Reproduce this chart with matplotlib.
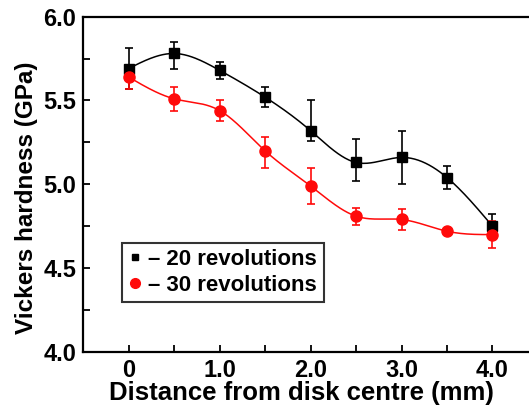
import numpy as np
import matplotlib
matplotlib.use("Agg")
import matplotlib.pyplot as plt
from matplotlib.ticker import MultipleLocator, FixedLocator, FixedFormatter

plt.rcParams['font.family'] = ['Liberation Sans', 'DejaVu Sans']
plt.rcParams['font.weight'] = 'bold'

# distance from disk centre (mm)
dist = [0, 0.5, 1.0, 1.5, 2.0, 2.5, 3.0, 3.5, 4.0]

# 20 revolutions
hv20 = [5.69, 5.78, 5.68, 5.52, 5.32, 5.13, 5.16, 5.04, 4.75]
err20_lo = [0.12, 0.09, 0.05, 0.06, 0.06, 0.11, 0.16, 0.07, 0.07]
err20_hi = [0.12, 0.07, 0.05, 0.06, 0.18, 0.14, 0.16, 0.07, 0.07]

# 30 revolutions
hv30 = [5.64, 5.51, 5.44, 5.20, 4.99, 4.81, 4.79, 4.72, 4.70]
err30_lo = [0.07, 0.07, 0.06, 0.10, 0.11, 0.05, 0.06, 0.01, 0.08]
err30_hi = [0.06, 0.07, 0.06, 0.08, 0.11, 0.05, 0.06, 0.01, 0.08]

xticks = [0, 1, 2, 3, 4]
xlabels = ["0", "1.0", "2.0", "3.0", "4.0"]


def spline(x, y, n=300):
    # natural cubic spline, just for drawing the smooth line
    x = np.asarray(x, float)
    y = np.asarray(y, float)
    k = len(x)
    h = np.diff(x)
    A = np.zeros((k, k))
    b = np.zeros(k)
    A[0, 0] = A[-1, -1] = 1
    for i in range(1, k - 1):
        A[i, i - 1] = h[i - 1]
        A[i, i] = 2 * (h[i - 1] + h[i])
        A[i, i + 1] = h[i]
        b[i] = 6 * ((y[i + 1] - y[i]) / h[i] - (y[i] - y[i - 1]) / h[i - 1])
    M = np.linalg.solve(A, b)
    xs = np.linspace(x[0], x[-1], n)
    idx = np.clip(np.searchsorted(x, xs) - 1, 0, k - 2)
    x0, x1 = x[idx], x[idx + 1]
    hh = x1 - x0
    t0 = x1 - xs
    t1 = xs - x0
    ys = (M[idx] * t0**3 + M[idx + 1] * t1**3) / (6 * hh) \
        + (y[idx] / hh - M[idx] * hh / 6) * t0 \
        + (y[idx + 1] / hh - M[idx + 1] * hh / 6) * t1
    return xs, ys


fig = plt.figure(figsize=(5.29, 4.05), dpi=100)
ax = fig.add_axes([0.157, 0.131, 0.86, 0.828])

red = '#ff0a0a'

sx, sy = spline(dist, hv20)
ax.plot(sx, sy, color='black', lw=1.1, zorder=2)
sx, sy = spline(dist, hv30)
ax.plot(sx, sy, color=red, lw=1.1, zorder=2)

ax.errorbar(dist, hv20, yerr=[err20_lo, err20_hi], fmt='none', ecolor='black',
            elinewidth=1.2, capsize=3, capthick=1.2, zorder=3)
ax.errorbar(dist, hv30, yerr=[err30_lo, err30_hi], fmt='none', ecolor=red,
            elinewidth=1.2, capsize=3, capthick=1.2, zorder=3)
ax.plot(dist, hv20, 's', color='black', ms=7, zorder=4)
ax.plot(dist, hv30, 'o', color=red, ms=8, zorder=5)

# legend proxies
h1, = ax.plot([], [], 's', color='black', ms=5)
h2, = ax.plot([], [], 'o', color=red, ms=7)
leg = ax.legend([h1, h2], ["\u2013 20 revolutions", "\u2013 30 revolutions"],
                loc='lower left', bbox_to_anchor=(0.085, 0.148),
                frameon=True, fancybox=False, handlelength=0.6, handletextpad=0.3,
                borderpad=0.3, labelspacing=0.2, fontsize=16, borderaxespad=0)
leg.get_frame().set_edgecolor('black')
leg.get_frame().set_linewidth(1.5)

ax.set_xlim(-0.5, 4.5)
ax.set_ylim(4.0, 6.0)
ax.xaxis.set_major_locator(FixedLocator(xticks))
ax.xaxis.set_major_formatter(FixedFormatter(xlabels))
ax.xaxis.set_minor_locator(MultipleLocator(0.5))
ax.yaxis.set_major_locator(MultipleLocator(0.5))
ax.yaxis.set_minor_locator(MultipleLocator(0.25))
ax.yaxis.set_major_formatter(plt.FuncFormatter(lambda v, p: f"{v:.1f}"))
ax.tick_params(which='both', direction='in', width=1.3, labelsize=17, pad=5)
ax.tick_params(which='major', length=5)
ax.tick_params(which='minor', length=5)
for s in ax.spines.values():
    s.set_linewidth(1.6)

ax.set_xlabel("Distance from disk centre (mm)", fontsize=18.5, fontweight='bold')
ax.set_ylabel("Vickers hardness (GPa)", fontsize=17.5, fontweight='bold')
ax.xaxis.set_label_coords(0.48, -0.088)
ax.yaxis.set_label_coords(-0.099, 0.46)

fig.savefig("out.png", dpi=100)
